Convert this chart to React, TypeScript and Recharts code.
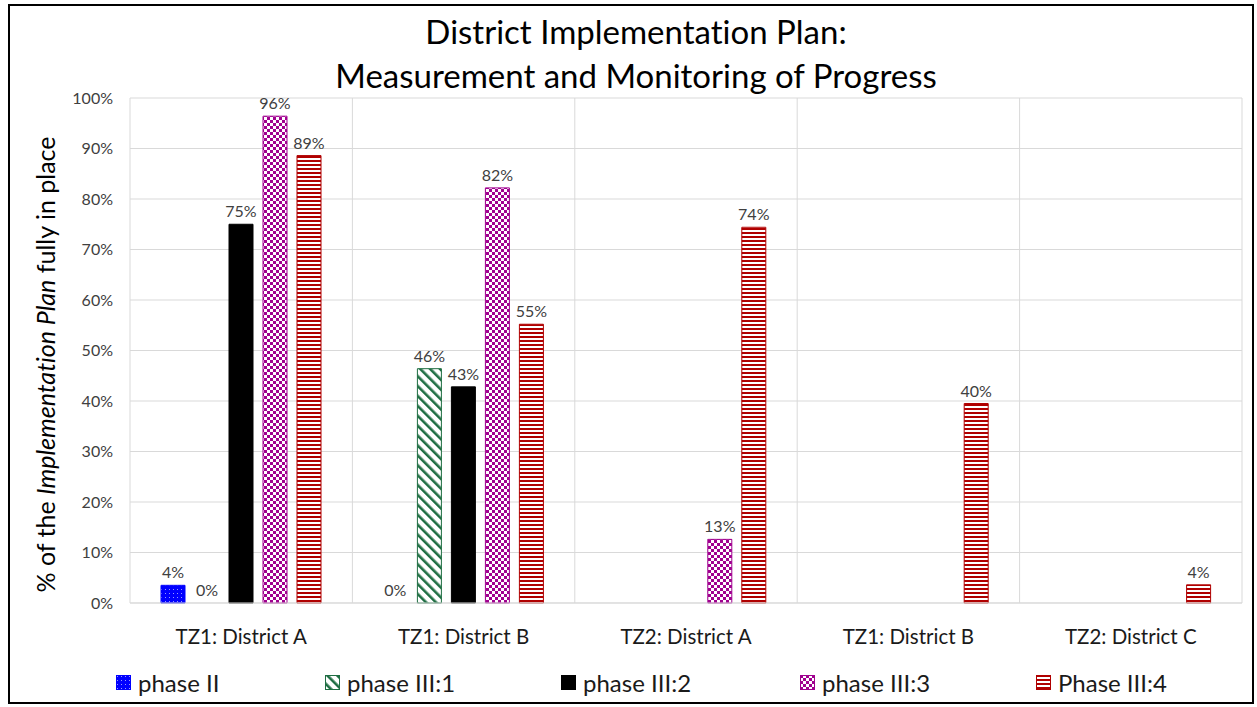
import {
  BarChart,
  Bar,
  Cell,
  XAxis,
  YAxis,
  CartesianGrid,
  LabelList,
} from "recharts";

const categories = [
  "TZ1: District A",
  "TZ1: District B",
  "TZ2: District A",
  "TZ1: District B",
  "TZ2: District C",
];
const phaseII = [3.5, 0, null, null, null];
const phaseIII1 = [0, 46.4, null, null, null];
const phaseIII2 = [75, 42.8, null, null, null];
const phaseIII3 = [96.4, 82.2, 12.6, null, null];
const phaseIII4 = [88.6, 55.2, 74.4, 39.5, 3.6];
const yTicks = [0, 10, 20, 30, 40, 50, 60, 70, 80, 90, 100];

const series = [
  { key: "p2", name: "phase II", values: phaseII, fill: "url(#pDots)", stroke: "#0000ff", iconX: 116 },
  { key: "p31", name: "phase III:1", values: phaseIII1, fill: "url(#pDiag)", stroke: "#1f6e43", iconX: 325 },
  { key: "p32", name: "phase III:2", values: phaseIII2, fill: "#000000", stroke: "#000000", iconX: 561 },
  { key: "p33", name: "phase III:3", values: phaseIII3, fill: "url(#pCheck)", stroke: "#a0008f", iconX: 800 },
  { key: "p34", name: "Phase III:4", values: phaseIII4, fill: "url(#pHoriz)", stroke: "#b00000", iconX: 1036 },
];

const data = categories.map((name, i) => {
  const row: any = { name };
  series.forEach((s) => (row[s.key] = s.values[i]));
  return row;
});

const FONT = "Lato, 'Noto Sans', sans-serif";

const Patterns = () => (
  <defs>
    <pattern id="pDots" width="4" height="4" patternUnits="userSpaceOnUse">
      <rect width="4" height="4" fill="#0000ff" />
      <rect x="1" y="1" width="1" height="1" fill="#9999ff" />
    </pattern>
    <pattern id="pDiag" width="7" height="7" patternUnits="userSpaceOnUse" patternTransform="rotate(-45)">
      <rect width="7" height="7" fill="#ffffff" />
      <rect x="0" y="0" width="2.6" height="7" fill="#1f6e43" />
    </pattern>
    <pattern id="pCheck" width="6" height="6" patternUnits="userSpaceOnUse">
      <rect width="6" height="6" fill="#ffffff" />
      <rect x="0" y="0" width="3" height="3" fill="#a0008f" />
      <rect x="3" y="3" width="3" height="3" fill="#a0008f" />
    </pattern>
    <pattern id="pHoriz" width="4" height="4" patternUnits="userSpaceOnUse">
      <rect width="4" height="4" fill="#ffffff" />
      <rect x="0" y="0" width="4" height="2" fill="#b00000" />
    </pattern>
  </defs>
);

const YLabel = (props: any) => {
  const vb = props.viewBox || { y: 98, height: 505 };
  const cy = vb.y + vb.height / 2 + 14;
  return (
    <text
      x={45}
      y={cy}
      transform={`rotate(-90, 45, ${cy})`}
      textAnchor="middle"
      dominantBaseline="central"
      fontSize={25}
      fill="#000"
      fontFamily={FONT}
      style={{ fontVariantLigatures: "none" }}
    >
      <tspan>% of the </tspan>
      <tspan fontStyle="italic">Implementation Plan</tspan>
      <tspan> fully in place</tspan>
    </text>
  );
};

const ValueLabel = (props: any) => {
  const { x, y, width, value } = props;
  if (value == null) return null;
  return (
    <text
      x={x + width / 2}
      y={y - 7}
      textAnchor="middle"
      fontSize={16}
      fill="#404040"
      fontFamily={FONT}
    >
      {`${Math.round(value)}%`}
    </text>
  );
};

const App = () => {
  return (
    <div style={{ position: "absolute", left: 0, top: 0, width: 1257, height: 707, background: "#fff", fontFamily: FONT, fontVariantLigatures: "none" }}>
      <div
        style={{
          position: "absolute",
          left: 8,
          top: 4,
          width: 1246,
          height: 700,
          border: "2px solid #000",
          boxSizing: "border-box",
        }}
      />
      <div
        style={{
          position: "absolute",
          left: 0,
          top: 9,
          width: 1272,
          textAlign: "center",
          fontSize: 33,
          lineHeight: "44px",
          color: "#000",
        }}
      >
        District Implementation Plan:
        <br />
        Measurement and Monitoring of Progress
      </div>
      <div style={{ position: "absolute", left: 0, top: 0 }}>
        <BarChart
          width={1257}
          height={707}
          data={data}
          margin={{ top: 98, right: 15, bottom: 64, left: 70 }}
          barSize={24}
          barGap={10}
        >
          <Patterns />
          <CartesianGrid
            stroke="#d9d9d9"
            strokeWidth={1}
            verticalCoordinatesGenerator={({ offset }: any) =>
              categories.map((_, i) => offset.left + (i * offset.width) / categories.length).concat([offset.left + offset.width])
            }
          />
          <XAxis
            dataKey="name"
            axisLine={{ stroke: "#d9d9d9" }}
            tickLine={false}
            tickMargin={20}
            height={40}
            tick={{ fontSize: 20.5, fill: "#1a1a1a", fontFamily: FONT }}
            interval={0}
          />
          <YAxis
            domain={[0, 100]}
            ticks={yTicks}
            width={60}
            axisLine={false}
            tickLine={false}
            tickSize={0}
            tickMargin={17}
            tickFormatter={(v: number) => `${v}%`}
            tick={{ fontSize: 16, fill: "#404040", fontFamily: FONT }}
            label={<YLabel />}
          />
          {series.map((s) => (
            <Bar
              key={s.key}
              dataKey={s.key}
              name={s.name}
              fill={s.fill}
              stroke={s.stroke}
              strokeWidth={1}
              minPointSize={(v: any) => (v === 0 ? 0.01 : 0)}
              isAnimationActive={false}
            >
              {s.values.map((v, i) => (
                <Cell key={i} stroke={v === 0 ? "none" : s.stroke} fill={v === 0 ? "none" : s.fill} />
              ))}
              <LabelList dataKey={s.key} content={<ValueLabel />} />
            </Bar>
          ))}
        </BarChart>
      </div>
      {series.map((s) => (
        <div
          key={s.key}
          style={{
            position: "absolute",
            left: s.iconX,
            top: 669,
            height: 26,
            display: "flex",
            alignItems: "center",
            fontSize: 24,
            color: "#1a1a1a",
            whiteSpace: "nowrap",
          }}
        >
          <svg width={15} height={15} style={{ marginRight: 7 }}>
            <rect x={0.5} y={0.5} width={14} height={14} fill={s.fill} stroke={s.stroke} />
          </svg>
          {s.name}
        </div>
      ))}
    </div>
  );
};

export default App;
